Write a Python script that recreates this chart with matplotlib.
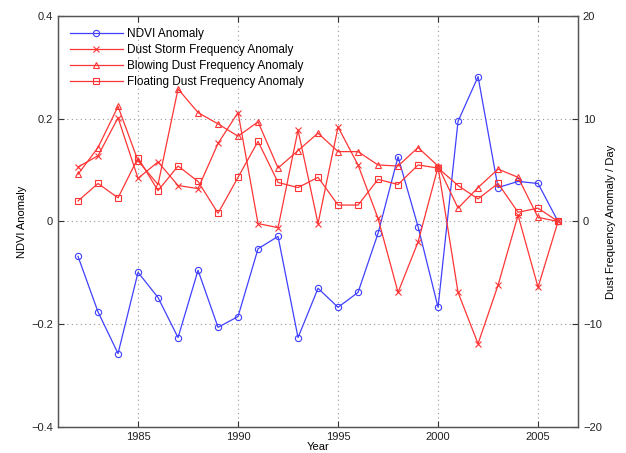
import matplotlib
matplotlib.use('Agg')

import numpy as np
import matplotlib.pyplot as plt

plt.rcParams['font.family'] = ['Liberation Sans', 'DejaVu Sans']
plt.rcParams['font.size'] = 8

# Data
years = np.arange(1982, 2007)
ndvi = [-0.068, -0.176, -0.257, -0.099, -0.148, -0.226, -0.095, -0.206, -0.185,
        -0.053, -0.029, -0.226, -0.130, -0.167, -0.138, -0.023, 0.126, -0.010,
        -0.167, 0.195, 0.282, 0.066, 0.078, 0.074, 0.0]
storm = [5.3, 6.4, 10.1, 4.2, 5.8, 3.5, 3.2, 7.6, 10.6, -0.2, -0.6, 8.9, -0.2,
         9.2, 5.5, 0.3, -6.9, -2.0, 5.3, -6.9, -11.9, -6.2, 0.6, -6.4, 0.0]
blowing = [4.6, 7.2, 11.2, 5.9, 3.6, 12.9, 10.6, 9.5, 8.3, 9.7, 5.2, 6.9, 8.6,
           6.8, 6.8, 5.5, 5.4, 7.2, 5.4, 1.3, 3.3, 5.1, 4.3, 0.4, 0.0]
floating = [2.0, 3.7, 2.3, 6.2, 3.0, 5.4, 3.9, 0.8, 4.3, 7.8, 3.8, 3.3, 4.3,
            1.6, 1.6, 4.1, 3.6, 5.5, 5.2, 3.5, 2.2, 3.7, 0.9, 1.3, 0.0]

blue = '#4040ff'
red = '#ff3535'

fig = plt.figure(figsize=(6.26, 4.53), dpi=100)
ax = fig.add_axes([0.0927, 0.0574, 0.8307, 0.9073])
ax2 = ax.twinx()

mk = dict(markersize=4.5, markerfacecolor='none', markeredgewidth=0.8, linewidth=0.9)
l1, = ax.plot(years, ndvi, '-o', color=blue, **mk)
l2, = ax2.plot(years, storm, '-x', color=red, **mk)
l3, = ax2.plot(years, blowing, '-^', color=red, **mk)
l4, = ax2.plot(years, floating, '-s', color=red, **mk)

ax.set_xlim(1981, 2007)
ax.set_ylim(-0.4, 0.4)
ax2.set_ylim(-20, 20)
ax.set_xticks([1985, 1990, 1995, 2000, 2005])
ax.set_yticks([-0.4, -0.2, 0, 0.2, 0.4])
ax.set_yticklabels(['\u22120.4', '\u22120.2', '0', '0.2', '0.4'])
ax2.set_yticks([-20, -10, 0, 10, 20])
ax2.set_yticklabels(['\u221220', '\u221210', '0', '10', '20'])

ax.grid(True, linestyle=(0, (1, 3)), color='#999999', linewidth=0.8)
ax.tick_params(direction='in', length=4, top=True, colors='#333333', labelcolor='#222222')
ax2.tick_params(direction='in', length=4, colors='#333333', labelcolor='#222222')
for a in (ax, ax2):
    for s in a.spines.values():
        s.set_color('#555555')
        s.set_linewidth(0.9)

ax.set_xlabel('Year', labelpad=0)
ax.set_ylabel('NDVI Anomaly', labelpad=3)
ax2.set_ylabel('Dust Frequency Anomaly / Day', labelpad=3)

leg = ax.legend([l1, l2, l3, l4],
                ['NDVI Anomaly', 'Dust Storm Frequency Anomaly',
                 'Blowing Dust Frequency Anomaly', 'Floating Dust Frequency Anomaly'],
                loc='upper left', frameon=False, handlelength=4.5,
                labelspacing=0.35, borderaxespad=0.6, handletextpad=0.3,
                prop={'size': 8.5})

fig.savefig('out.png', dpi=100)
